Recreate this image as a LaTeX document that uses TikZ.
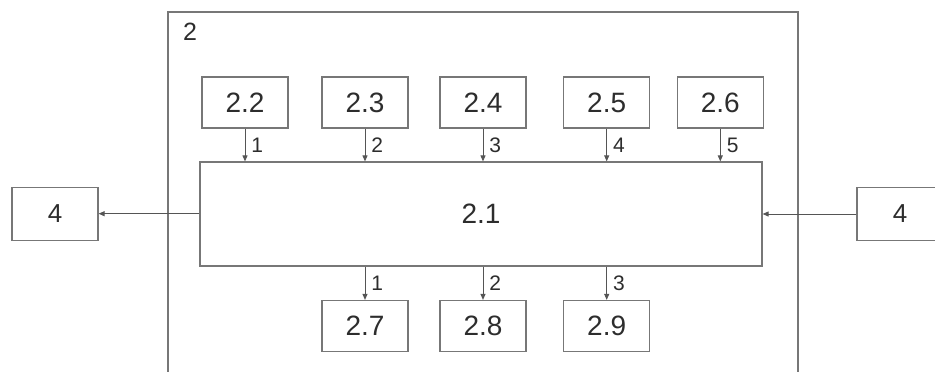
\documentclass[tikz,border=0pt]{standalone}
\usepackage{fontspec}
\setmainfont{Liberation Sans}
\usetikzlibrary{arrows.meta}
\definecolor{boxcol}{HTML}{777777}
\definecolor{linecol}{HTML}{555555}
\definecolor{txtcol}{HTML}{2D2D2D}
\tikzset{
  blk/.style={draw=boxcol, line width=1.2pt, minimum width=86pt, minimum height=51pt, inner sep=0pt, text=txtcol, font=\fontsize{28}{28}\selectfont},
  extblk/.style={blk, minimum height=53pt, font=\fontsize{26}{26}\selectfont},
  conn/.style={draw=linecol, line width=0.9pt, -{Triangle[length=6pt,width=5pt]}},
  lbl/.style={text=txtcol, font=\fontsize{21}{21}\selectfont, inner sep=0pt, anchor=west},
  frame/.style={draw=boxcol, line width=1.2pt}
}
\begin{document}
\begin{tikzpicture}[x=1pt,y=-1pt]
\useasboundingbox (0,0) rectangle (935,372);
\clip (0,0) rectangle (935,372);
\coordinate (fa) at (168,380);
\coordinate (fb) at (168,12);
\coordinate (fc) at (798,12);
\coordinate (fd) at (798,380);
\draw[frame] (fa) -- (fb) -- (fc) -- (fd);
\node[text=txtcol, font=\fontsize{25}{25}\selectfont, inner sep=0pt] (lab2) at (190,32) {2};

\node[blk, minimum width=562pt, minimum height=104pt] (m) at (481,214) {2.1};

\node[blk] (b22) at (245,102.5) {2.2};
\node[blk] (b23) at (365,102.5) {2.3};
\node[blk] (b24) at (483,102.5) {2.4};
\node[blk] (b25) at (606.7,102.5) {2.5};
\node[blk] (b26) at (720.3,102.5) {2.6};

\node[blk] (b27) at (365,326) {2.7};
\node[blk] (b28) at (483,326) {2.8};
\node[blk] (b29) at (606.7,326) {2.9};

\node[extblk] (l4) at (55,213.7) {4};
\node[extblk] (r4) at (900,214) {4};

\foreach \n/\t in {b22/1,b23/2,b24/3,b25/4,b26/5}{
  \draw[conn] (\n.south) -- (\n.south |- m.north) node[midway, lbl, xshift=6pt] {\t};
}
\foreach \n/\t in {b27/1,b28/2,b29/3}{
  \draw[conn] (\n.north |- m.south) -- (\n.north) node[midway, lbl, xshift=6pt] {\t};
}
\draw[conn] (m.west |- l4.east) -- (l4.east);
\draw[conn] (r4.west) -- (m.east |- r4.west);
\end{tikzpicture}
\end{document}
